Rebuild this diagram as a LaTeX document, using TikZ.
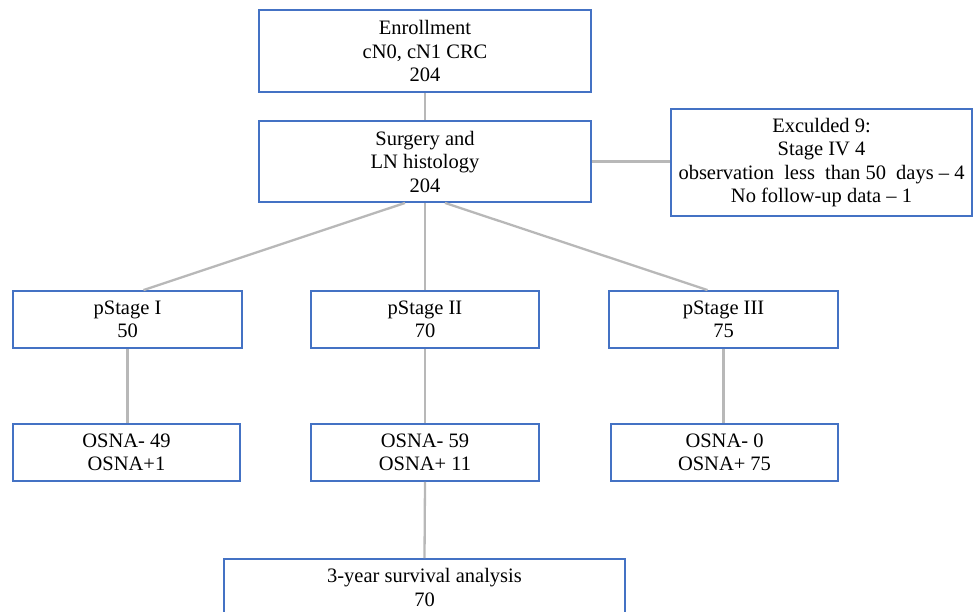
\documentclass[tikz,border=0pt]{standalone}
\usepackage{fontspec}
\setmainfont{Liberation Serif}
\usetikzlibrary{calc}
\definecolor{boxblue}{HTML}{4472C4}
\definecolor{linegray}{HTML}{B8B8B8}
\begin{document}
\begin{tikzpicture}[x=1pt,y=-1pt,
  box/.style={draw=boxblue, line width=1.9pt, fill=white, inner sep=0pt, align=center,
    font=\fontsize{20.5}{23.5}\selectfont},
  conn/.style={draw=linegray, line width=2.3pt}]
\useasboundingbox (0,0) rectangle (973,611);
\clip (0,0) rectangle (973,611);
\node[box, minimum width=332pt, minimum height=82pt] (enr) at (425,51) {Enrollment\\cN0, cN1 CRC\\204};
\node[box, minimum width=332pt, minimum height=81pt] (surg) at (425,161.5) {Surgery and\\LN histology\\204};
\node[box, minimum width=301pt, minimum height=107pt] (excl) at (821.5,162.5) {Exculded 9:\\Stage IV 4\\observation\hspace{5pt} less\hspace{5pt} than 50\hspace{5pt} days -- 4\\No follow-up data -- 1};
\node[box, minimum width=229pt, minimum height=57pt] (p1) at (127.5,319.5) {pStage I\\50};
\node[box, minimum width=228pt, minimum height=57pt] (p2) at (425,319.5) {pStage II\\70};
\node[box, minimum width=229pt, minimum height=57pt] (p3) at (723.5,319.5) {pStage III\\75};
\node[box, minimum width=227pt, minimum height=57pt] (o1) at (126.5,452.5) {OSNA- 49\\OSNA+1};
\node[box, minimum width=228pt, minimum height=57pt] (o2) at (425,452.5) {OSNA- 59\\OSNA+ 11};
\node[box, minimum width=227pt, minimum height=57pt] (o3) at (724.5,452.5) {OSNA- 0\\OSNA+ 75};
\node[box, minimum width=401pt, minimum height=57pt] (surv) at (424.5,587.5) {3-year survival analysis\\70};
\draw[conn] (enr.south) -- (surg.north);
\draw[conn] (surg.east) -- (surg.east -| excl.west);
\draw[conn] ($(surg.south)+(-20,0)$) -- ($(p1.north)+(16,0)$);
\draw[conn] (surg.south) -- (p2.north);
\draw[conn] ($(surg.south)+(20,0)$) -- ($(p3.north)+(-16,0)$);
\draw[conn] (p1.south) -- (p1.south |- o1.north);
\draw[conn] (p2.south) -- (o2.north);
\draw[conn] (p3.south) -- (p3.south |- o3.north);
\draw[conn] (o2.south) -- (surv.north);
\end{tikzpicture}
\end{document}
